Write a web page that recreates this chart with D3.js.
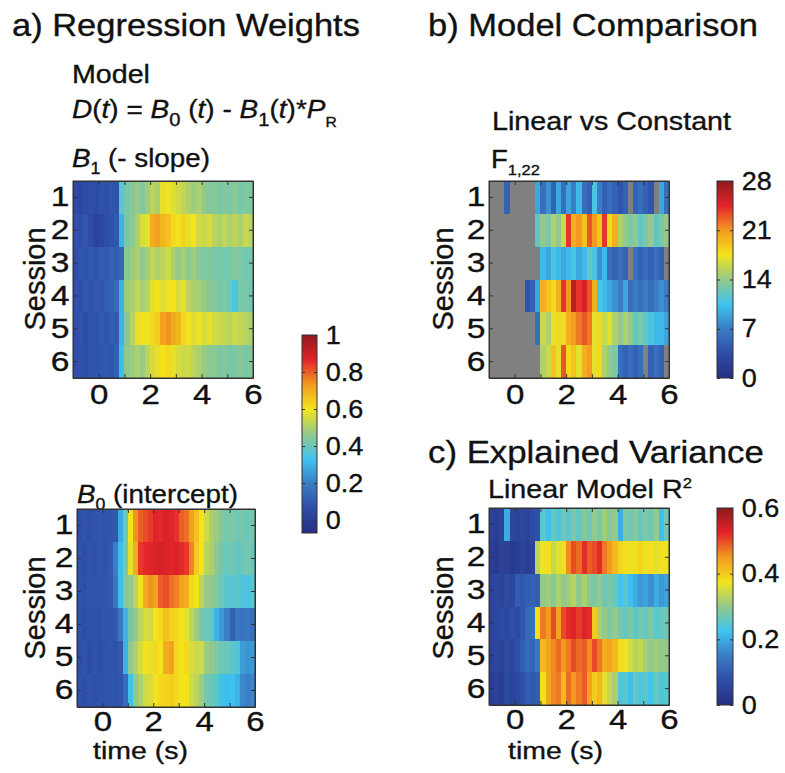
<!DOCTYPE html>
<html>
<head>
<meta charset="utf-8">
<script src="https://cdn.jsdelivr.net/npm/d3@7"></script>
<style>
body { margin: 0; background: #fff; }
text { font-family: "Liberation Sans", Arial, sans-serif; fill: #111; stroke: #111; stroke-width: 0.35px; }
</style>
</head>
<body>
<div id="fig"></div>
<script>
// time bins start at -1 s, 0.2 s wide, 35 bins per session
var timeStart = -1, binWidth = 0.2;
var sessions = [1, 2, 3, 4, 5, 6];
var xTicks = [0, 2, 4, 6];
var cbarTicksA = [0, 0.2, 0.4, 0.6, 0.8, 1];
var cbarTicksB = [0, 7, 14, 21, 28];
var cbarTicksC = [0, 0.2, 0.4, 0.6];

// B1 (- slope)
var slopeB1 = [
  [0.05,0.04,0.06,0.07,0.06,0.08,0.07,0.09,0.08,0.38, 0.42,0.45,0.47,0.44,0.48,0.52,0.5,0.58,0.6,0.57, 0.55,0.53,0.5,0.48,0.5,0.46,0.44,0.45,0.42,0.44, 0.43,0.45,0.42,0.44,0.43],
  [0.08,0.07,0.09,0.06,0.02,0.04,0.07,0.08,0.1,0.3, 0.42,0.46,0.5,0.56,0.58,0.7,0.72,0.68,0.66,0.62, 0.6,0.63,0.58,0.6,0.55,0.54,0.56,0.52,0.5,0.53, 0.5,0.52,0.5,0.54,0.52],
  [0.07,0.09,0.08,0.1,0.09,0.11,0.1,0.12,0.11,0.13, 0.45,0.48,0.5,0.46,0.49,0.53,0.5,0.52,0.55,0.5, 0.47,0.49,0.46,0.48,0.45,0.43,0.44,0.42,0.43,0.41, 0.42,0.44,0.43,0.41,0.42],
  [0.08,0.07,0.09,0.08,0.1,0.09,0.11,0.12,0.15,0.3, 0.48,0.5,0.53,0.49,0.52,0.58,0.6,0.57,0.59,0.6, 0.56,0.58,0.52,0.5,0.49,0.47,0.45,0.44,0.42,0.44, 0.4,0.35,0.42,0.43,0.41],
  [0.07,0.08,0.06,0.09,0.08,0.1,0.09,0.11,0.1,0.3, 0.45,0.52,0.58,0.6,0.59,0.62,0.64,0.72,0.74,0.7, 0.68,0.62,0.6,0.57,0.59,0.56,0.58,0.55,0.54,0.53, 0.52,0.54,0.53,0.52,0.5],
  [0.07,0.08,0.07,0.09,0.08,0.09,0.1,0.09,0.12,0.32, 0.46,0.48,0.5,0.47,0.52,0.56,0.58,0.6,0.62,0.58, 0.56,0.54,0.55,0.52,0.5,0.47,0.45,0.46,0.43,0.44, 0.42,0.43,0.45,0.42,0.44]
];

// B0 (intercept)
var interceptB0 = [
  [0.07,0.08,0.07,0.08,0.09,0.08,0.09,0.1,0.28,0.4, 0.6,0.74,0.8,0.82,0.84,0.87,0.86,0.88,0.87,0.85, 0.8,0.78,0.72,0.66,0.6,0.55,0.5,0.48,0.44,0.42, 0.43,0.41,0.42,0.4,0.42],
  [0.08,0.07,0.08,0.07,0.09,0.08,0.1,0.2,0.32,0.42, 0.58,0.7,0.84,0.86,0.87,0.88,0.89,0.88,0.87,0.88, 0.86,0.84,0.76,0.64,0.6,0.52,0.5,0.46,0.42,0.4, 0.41,0.39,0.4,0.42,0.4],
  [0.08,0.07,0.09,0.08,0.08,0.09,0.1,0.18,0.32,0.44, 0.46,0.52,0.6,0.7,0.74,0.72,0.8,0.82,0.78,0.76, 0.72,0.7,0.62,0.6,0.52,0.47,0.46,0.44,0.4,0.38, 0.37,0.38,0.36,0.35,0.37],
  [0.08,0.07,0.08,0.08,0.07,0.09,0.08,0.1,0.18,0.3, 0.42,0.46,0.52,0.56,0.55,0.6,0.62,0.66,0.63,0.62, 0.6,0.58,0.52,0.48,0.42,0.4,0.38,0.3,0.25,0.2, 0.12,0.18,0.17,0.18,0.16],
  [0.07,0.08,0.06,0.08,0.07,0.08,0.09,0.08,0.1,0.3, 0.46,0.5,0.56,0.6,0.58,0.62,0.6,0.7,0.72,0.62, 0.6,0.62,0.56,0.54,0.55,0.48,0.46,0.44,0.4,0.4, 0.38,0.36,0.26,0.24,0.25],
  [0.08,0.07,0.08,0.07,0.08,0.08,0.09,0.08,0.09,0.15, 0.33,0.46,0.5,0.55,0.56,0.6,0.62,0.63,0.64,0.62, 0.6,0.6,0.55,0.52,0.48,0.42,0.4,0.38,0.33,0.32, 0.33,0.3,0.22,0.2,0.21]
];

// F(1,22), linear vs constant; null = not shown (grey)
var n = null;
var fStat = [
  [n,n,n,5,n,n,n,n,n,9, 6,8,5,9,6,9,7,10,6,5, 11,7,5,6,5,4,5,n,5,6, 5,4,n,9,6],
  [n,n,n,n,n,n,n,n,n,12, 14,13,15,14,16,24,20,21,19,23, 21,19,24,18,20,15,14,13,14,12, 13,14,12,13,14],
  [n,n,n,n,n,n,n,n,n,n, 10,9,11,10,9,10,11,9,10,12, 11,8,10,6,5,6,5,n,6,5, 6,5,6,5,n],
  [n,n,n,n,n,n,n,4,5,9, 20,19,18,20,24,21,26,24,25,23, 20,11,10,9,8,7,9,6,7,6, 7,6,7,8,7],
  [n,n,n,n,n,n,n,n,n,6, 16,15,17,18,17,20,21,22,23,22, 17,18,16,17,15,14,15,14,12,13, 12,11,10,10,9],
  [n,n,n,n,n,n,n,n,n,n, 15,16,19,17,23,18,19,17,20,21, 17,18,15,14,13,6,5,6,5,6, n,5,6,5,n]
];

// linear model R^2
var rSquared = [
  [0.05,0.04,0.05,0.2,0.06,0.05,0.06,0.05,0.07,0.08, 0.25,0.22,0.26,0.24,0.27,0.25,0.28,0.26,0.29,0.27, 0.3,0.28,0.31,0.29,0.3,0.2,0.28,0.27,0.29,0.26, 0.28,0.27,0.3,0.22,0.27],
  [0.04,0.03,0.05,0.04,0.03,0.04,0.05,0.04,0.05,0.33, 0.37,0.38,0.34,0.36,0.38,0.46,0.5,0.48,0.52,0.49, 0.5,0.52,0.47,0.45,0.42,0.39,0.38,0.37,0.38,0.39, 0.37,0.38,0.36,0.38,0.37],
  [0.05,0.06,0.05,0.07,0.06,0.1,0.09,0.1,0.11,0.1, 0.3,0.31,0.29,0.32,0.3,0.31,0.33,0.3,0.32,0.29, 0.28,0.3,0.27,0.28,0.26,0.23,0.25,0.22,0.2,0.18, 0.19,0.17,0.2,0.18,0.19],
  [0.05,0.06,0.07,0.06,0.08,0.07,0.09,0.12,0.13,0.38, 0.47,0.45,0.5,0.44,0.5,0.52,0.53,0.51,0.53,0.52, 0.4,0.32,0.3,0.28,0.3,0.27,0.26,0.28,0.25,0.27, 0.26,0.28,0.25,0.26,0.27],
  [0.05,0.06,0.05,0.07,0.06,0.08,0.1,0.12,0.11,0.14, 0.42,0.44,0.46,0.48,0.45,0.47,0.5,0.48,0.49,0.46, 0.5,0.47,0.43,0.44,0.42,0.38,0.37,0.35,0.33,0.34, 0.31,0.3,0.31,0.3,0.3],
  [0.04,0.05,0.04,0.06,0.05,0.06,0.08,0.1,0.09,0.1, 0.38,0.44,0.46,0.47,0.42,0.48,0.45,0.47,0.49,0.44, 0.4,0.42,0.36,0.34,0.32,0.24,0.25,0.22,0.26,0.24, 0.25,0.23,0.26,0.24,0.25]
];

// printed "jet" colormap
var jetPos = [0, 0.125, 0.25, 0.375, 0.5, 0.625, 0.75, 0.875, 1];
var jetColors = ["#262e80", "#2e4da6", "#3a7dc6", "#3ec4ef", "#93c98a", "#f3e41c", "#f39a20", "#e3232a", "#8e1a1c"];
var nanGrey = "#808080";
var lineCol = "#333";

var svg = d3.select("#fig").append("svg")
  .attr("width", 785)
  .attr("height", 773);

function jet(lo, hi) {
  return d3.scaleLinear()
    .domain(jetPos.map(function(p) { return lo + p * (hi - lo); }))
    .range(jetColors)
    .clamp(true);
}

function styleAxis(g, size, sx) {
  g.select(".domain").attr("stroke", lineCol);
  g.selectAll(".tick line").attr("stroke", lineCol);
  g.selectAll("text")
    .attr("font-size", size)
    .attr("fill", "#111")
    .attr("transform", "scale(" + sx + ",1)");
  g.attr("font-family", null);
}

function heatmap(box, rows, color) {
  var x = d3.scaleLinear().domain([-1, 6]).range([box.x0, box.x1]);
  var y = d3.scaleBand().domain(sessions).range([box.y0, box.y1]);

  var cells = [];
  rows.forEach(function(row, r) {
    row.forEach(function(v, i) {
      cells.push({s: sessions[r], t: timeStart + i * binWidth, v: v});
    });
  });

  var g = svg.append("g");
  g.selectAll("rect").data(cells).enter().append("rect")
    .attr("x", function(d) { return x(d.t); })
    .attr("y", function(d) { return y(d.s); })
    .attr("width", function(d) { return x(d.t + binWidth) - x(d.t); })
    .attr("height", y.bandwidth())
    .attr("shape-rendering", "crispEdges")
    .attr("fill", function(d) { return d.v === null ? nanGrey : color(d.v); });

  var ints = d3.range(-1, 7);
  var bottom = g.append("g")
    .attr("transform", "translate(0," + box.y1 + ")")
    .call(d3.axisBottom(x).tickValues(ints).tickSize(-4).tickSizeOuter(0).tickPadding(box.pad)
      .tickFormat(function(d) { return xTicks.indexOf(d) >= 0 ? d : ""; }));
  styleAxis(bottom, 28, 1.18);

  var top = g.append("g")
    .attr("transform", "translate(0," + box.y0 + ")")
    .call(d3.axisTop(x).tickValues(ints).tickSize(-4).tickSizeOuter(0).tickFormat(""));
  styleAxis(top, 10, 1);

  var left = g.append("g")
    .attr("transform", "translate(" + box.x0 + ",0)")
    .call(d3.axisLeft(y).tickSize(-4).tickSizeOuter(0).tickPadding(3));
  styleAxis(left, 28, 1.2);

  var right = g.append("g")
    .attr("transform", "translate(" + box.x1 + ",0)")
    .call(d3.axisRight(y).tickSize(-4).tickSizeOuter(0).tickFormat(""));
  styleAxis(right, 10, 1);

  g.append("rect")
    .attr("x", box.x0).attr("y", box.y0)
    .attr("width", box.x1 - box.x0).attr("height", box.y1 - box.y0)
    .attr("fill", "none").attr("stroke", lineCol).attr("stroke-width", 1);
}

var gradCount = 0;
function colorbar(box, lo, hi, ticks, fmt) {
  var color = jet(lo, hi);
  var y = d3.scaleLinear().domain([lo, hi]).range([box.y1, box.y0]);
  var id = "cb" + (gradCount++);
  var grad = svg.append("defs").append("linearGradient")
    .attr("id", id).attr("x1", 0).attr("y1", 1).attr("x2", 0).attr("y2", 0);
  grad.selectAll("stop").data(jetPos).enter().append("stop")
    .attr("offset", function(p) { return p; })
    .attr("stop-color", function(p, i) { return jetColors[i]; });

  svg.append("rect")
    .attr("x", box.x0).attr("y", box.y0)
    .attr("width", box.x1 - box.x0).attr("height", box.y1 - box.y0)
    .attr("fill", "url(#" + id + ")")
    .attr("stroke", lineCol);

  var ax = svg.append("g")
    .attr("transform", "translate(" + box.x1 + ",0)")
    .call(d3.axisRight(y).tickValues(ticks).tickSize(-3).tickSizeOuter(0).tickPadding(8).tickFormat(fmt));
  styleAxis(ax, 25, 1.08);
  ax.select(".domain").remove();

  var axl = svg.append("g")
    .attr("transform", "translate(" + box.x0 + ",0)")
    .call(d3.axisLeft(y).tickValues(ticks).tickSize(-3).tickSizeOuter(0).tickFormat(""));
  styleAxis(axl, 10, 1);
  axl.select(".domain").remove();
  return color;
}

// text made of parts, stretched to the measured width
function fitText(x, y, width, size, parts) {
  var t = svg.append("text").attr("font-size", size);
  var shift = 0;
  parts.forEach(function(p) {
    var want = p.dy || 0;
    t.append("tspan")
      .attr("dy", want - shift)
      .attr("font-size", p.size || size)
      .attr("font-style", p.i ? "italic" : null)
      .text(p.s);
    shift = want;
  });
  var w = t.node().getBBox().width;
  t.attr("transform", "translate(" + x + "," + y + ") scale(" + (width / w) + ",1)");
}

function vLabel(x, y, s) {
  svg.append("text")
    .attr("transform", "translate(" + x + "," + y + ") rotate(-90)")
    .attr("text-anchor", "middle")
    .attr("font-size", 29)
    .text(s);
}

// panel titles and captions
fitText(12, 36, 348, 31, [{s: "a) Regression Weights"}]);
fitText(428, 36, 330, 31, [{s: "b) Model Comparison"}]);
fitText(428, 463, 336, 31, [{s: "c) Explained Variance"}]);
fitText(72, 83, 78, 25, [{s: "Model"}]);
fitText(72, 118, 265, 25, [
  {s: "D", i: 1}, {s: "("}, {s: "t", i: 1}, {s: ") = "},
  {s: "B", i: 1}, {s: "0", dy: 8, size: 18}, {s: " ("}, {s: "t", i: 1}, {s: ") - "},
  {s: "B", i: 1}, {s: "1", dy: 8, size: 18}, {s: "("}, {s: "t", i: 1}, {s: ")*"},
  {s: "P", i: 1}, {s: "R", dy: 9, size: 14}
]);
fitText(72, 167, 138, 25, [{s: "B", i: 1}, {s: "1", dy: 7, size: 16}, {s: " (- slope)"}]);
fitText(77, 503, 161, 25, [{s: "B", i: 1}, {s: "0", dy: 7, size: 16}, {s: " (intercept)"}]);
fitText(492, 130, 240, 26, [{s: "Linear vs Constant"}]);
fitText(491, 168, 49, 25, [{s: "F"}, {s: "1,22", dy: 7, size: 15}]);
fitText(488, 498, 204, 26, [{s: "Linear Model R"}, {s: "2", dy: -10, size: 15}]);
fitText(93, 759, 95, 24, [{s: "time (s)"}]);
fitText(508, 759, 95, 24, [{s: "time (s)"}]);

vLabel(45, 279, "Session");
vLabel(45, 608, "Session");
vLabel(453, 279, "Session");
vLabel(453, 608, "Session");

// colour bars
var colorA = colorbar({x0: 302, x1: 317, y0: 335, y1: 533}, -0.07, 1, cbarTicksA, function(d) { return d; });
var colorB = colorbar({x0: 717, x1: 733, y0: 181, y1: 378}, 0, 28, cbarTicksB, function(d) { return d; });
var colorC = colorbar({x0: 717, x1: 733, y0: 508, y1: 705}, 0, 0.6, cbarTicksC, function(d) { return d; });

// heatmaps
heatmap({x0: 73, x1: 253, y0: 181, y1: 378, pad: 6}, slopeB1, colorA);
heatmap({x0: 77, x1: 255, y0: 509, y1: 707, pad: 4}, interceptB0, colorA);
heatmap({x0: 489, x1: 669, y0: 181, y1: 378, pad: 6}, fStat, colorB);
heatmap({x0: 489, x1: 669, y0: 508, y1: 705, pad: 4}, rSquared, colorC);
</script>
</body>
</html>
